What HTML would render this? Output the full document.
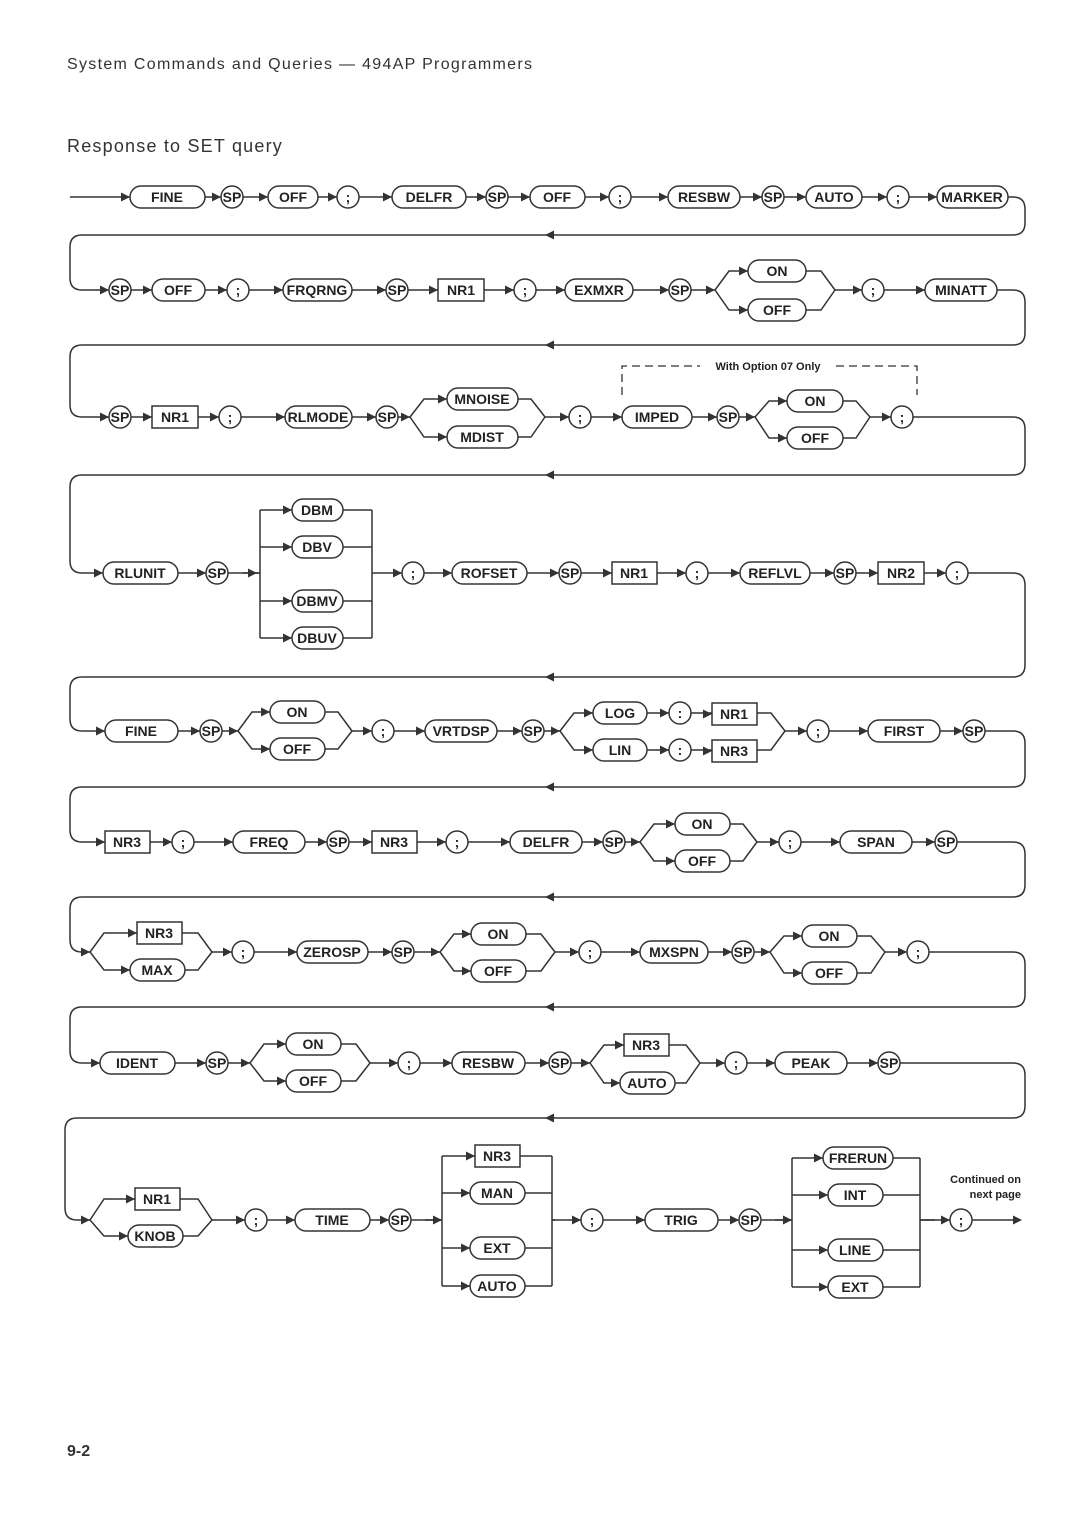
<!DOCTYPE html>
<html><head><meta charset="utf-8"><style>
html,body{margin:0;padding:0;background:#fff}
svg{display:block}
text{font-family:"Liberation Sans",sans-serif;fill:#222}
.l{fill:none;stroke:#333;stroke-width:1.5}
.o{fill:#fff;stroke:#333;stroke-width:1.5}
.t{font-size:14px;font-weight:bold;text-anchor:middle}
</style></head><body>
<svg width="1080" height="1528" viewBox="0 0 1080 1528" xmlns="http://www.w3.org/2000/svg">
<defs><path id="a" d="M-9,-4.5 L0,0 L-9,4.5Z" fill="#333"/></defs>
<text x="67" y="69" style="font-size:16px;letter-spacing:1.3px;fill:#333">System Commands and Queries — 494AP Programmers</text>
<text x="67" y="152" style="font-size:18px;letter-spacing:1.2px;fill:#333">Response to SET query</text>
<text x="67" y="1456" style="font-size:16px;font-weight:bold;fill:#333">9-2</text>

<!-- main lines -->
<path class="l" d="M70 197 H1013 Q1025 197 1025 209 V223 Q1025 235 1013 235 H82 Q70 235 70 247 V278 Q70 290 82 290 H715 M835 290 H1013 Q1025 290 1025 302 V333 Q1025 345 1013 345 H82 Q70 345 70 357 V405 Q70 417 82 417 H410 M545 417 H755 M870 417 H1013 Q1025 417 1025 429 V463 Q1025 475 1013 475 H82 Q70 475 70 487 V561 Q70 573 82 573 H260 M372 573 H1013 Q1025 573 1025 585 V665 Q1025 677 1013 677 H82 Q70 677 70 689 V719 Q70 731 82 731 H238 M352 731 H560 M785 731 H1013 Q1025 731 1025 743 V775 Q1025 787 1013 787 H82 Q70 787 70 799 V830 Q70 842 82 842 H640 M757 842 H1013 Q1025 842 1025 854 V885 Q1025 897 1013 897 H82 Q70 897 70 909 V940 Q70 952 82 952 H90 M212 952 H440 M555 952 H770 M885 952 H1013 Q1025 952 1025 964 V995 Q1025 1007 1013 1007 H82 Q70 1007 70 1019 V1051 Q70 1063 82 1063 H250 M370 1063 H590 M700 1063 H1013 Q1025 1063 1025 1075 V1106 Q1025 1118 1013 1118 H77 Q65 1118 65 1130 V1208 Q65 1220 77 1220 H90 M212 1220 H442 M552 1220 H792 M920 1220 H1018"/>
<g fill="#333"><use href="#a" x="545" y="235" transform="rotate(180 545 235)"/><use href="#a" x="545" y="345" transform="rotate(180 545 345)"/><use href="#a" x="545" y="475" transform="rotate(180 545 475)"/><use href="#a" x="545" y="677" transform="rotate(180 545 677)"/><use href="#a" x="545" y="787" transform="rotate(180 545 787)"/><use href="#a" x="545" y="897" transform="rotate(180 545 897)"/><use href="#a" x="545" y="1007" transform="rotate(180 545 1007)"/><use href="#a" x="545" y="1118" transform="rotate(180 545 1118)"/></g>

<!-- branches -->
<path class="l" d="
M715 290 L729 271 H821 L835 290 M715 290 L729 310 H821 L835 290
M410 417 L424 399 H531 L545 417 M410 417 L424 437 H531 L545 417
M755 417 L769 401 H856 L870 417 M755 417 L769 438 H856 L870 417
M243 573 H260 M260 510 V638 M372 510 V638 M260 510 H372 M260 547 H372 M260 601 H372 M260 638 H372
M238 731 L252 712 H338 L352 731 M238 731 L252 749 H338 L352 731
M560 731 L574 713 H771 L785 731 M560 731 L574 750 H771 L785 731
M640 842 L654 824 H743 L757 842 M640 842 L654 861 H743 L757 842
M90 952 L104 933 H198 L212 952 M90 952 L104 970 H198 L212 952
M440 952 L454 934 H541 L555 952 M440 952 L454 971 H541 L555 952
M770 952 L784 936 H871 L885 952 M770 952 L784 973 H871 L885 952
M250 1063 L264 1044 H356 L370 1063 M250 1063 L264 1081 H356 L370 1063
M590 1063 L604 1045 H686 L700 1063 M590 1063 L604 1083 H686 L700 1063
M90 1220 L104 1199 H198 L212 1220 M90 1220 L104 1236 H198 L212 1220
M425 1220 H442 M442 1156 V1286 M552 1156 V1286 M552 1220 H555 M442 1156 H552 M442 1193 H552 M442 1248 H552 M442 1286 H552
M775 1220 H792 M792 1158 V1287 M920 1158 V1287 M920 1220 H935 M792 1158 H920 M792 1195 H920 M792 1250 H920 M792 1287 H920
"/>
<path d="M622 395 V366 H700 M836 366 H917 V395" fill="none" stroke="#333" stroke-width="1.3" stroke-dasharray="8,5"/>
<text x="768" y="370" style="font-size:11px;font-weight:bold;text-anchor:middle">With Option 07 Only</text>
<text x="1021" y="1183" style="font-size:11px;font-weight:bold;text-anchor:end">Continued on</text>
<text x="1021" y="1198" style="font-size:11px;font-weight:bold;text-anchor:end">next page</text>
<use href="#a" x="1022" y="1220"/>

<g class="t">
<!-- Row 1 -->
<rect class="o" x="130" y="186" width="75" height="22" rx="11"/><text x="167" y="202">FINE</text>
<circle class="o" cx="232" cy="197" r="11"/><text x="232" y="202">SP</text>
<rect class="o" x="268" y="186" width="50" height="22" rx="11"/><text x="293" y="202">OFF</text>
<circle class="o" cx="348" cy="197" r="11"/><text x="348" y="202">;</text>
<rect class="o" x="392" y="186" width="74" height="22" rx="11"/><text x="429" y="202">DELFR</text>
<circle class="o" cx="497" cy="197" r="11"/><text x="497" y="202">SP</text>
<rect class="o" x="530" y="186" width="55" height="22" rx="11"/><text x="557" y="202">OFF</text>
<circle class="o" cx="620" cy="197" r="11"/><text x="620" y="202">;</text>
<rect class="o" x="668" y="186" width="72" height="22" rx="11"/><text x="704" y="202">RESBW</text>
<circle class="o" cx="773" cy="197" r="11"/><text x="773" y="202">SP</text>
<rect class="o" x="806" y="186" width="56" height="22" rx="11"/><text x="834" y="202">AUTO</text>
<circle class="o" cx="898" cy="197" r="11"/><text x="898" y="202">;</text>
<rect class="o" x="937" y="186" width="71" height="22" rx="11"/><text x="972" y="202">MARKER</text>
<!-- Row 2 -->
<circle class="o" cx="120" cy="290" r="11"/><text x="120" y="295">SP</text>
<rect class="o" x="152" y="279" width="53" height="22" rx="11"/><text x="178" y="295">OFF</text>
<circle class="o" cx="238" cy="290" r="11"/><text x="238" y="295">;</text>
<rect class="o" x="283" y="279" width="69" height="22" rx="11"/><text x="317" y="295">FRQRNG</text>
<circle class="o" cx="397" cy="290" r="11"/><text x="397" y="295">SP</text>
<rect class="o" x="438" y="279" width="46" height="22"/><text x="461" y="295">NR1</text>
<circle class="o" cx="525" cy="290" r="11"/><text x="525" y="295">;</text>
<rect class="o" x="565" y="279" width="68" height="22" rx="11"/><text x="599" y="295">EXMXR</text>
<circle class="o" cx="680" cy="290" r="11"/><text x="680" y="295">SP</text>
<rect class="o" x="748" y="260" width="58" height="22" rx="11"/><text x="777" y="276">ON</text>
<rect class="o" x="748" y="299" width="58" height="22" rx="11"/><text x="777" y="315">OFF</text>
<circle class="o" cx="873" cy="290" r="11"/><text x="873" y="295">;</text>
<rect class="o" x="925" y="279" width="72" height="22" rx="11"/><text x="961" y="295">MINATT</text>
<!-- Row 3 -->
<circle class="o" cx="120" cy="417" r="11"/><text x="120" y="422">SP</text>
<rect class="o" x="152" y="406" width="46" height="22"/><text x="175" y="422">NR1</text>
<circle class="o" cx="230" cy="417" r="11"/><text x="230" y="422">;</text>
<rect class="o" x="285" y="406" width="67" height="22" rx="11"/><text x="318" y="422">RLMODE</text>
<circle class="o" cx="387" cy="417" r="11"/><text x="387" y="422">SP</text>
<rect class="o" x="447" y="388" width="71" height="22" rx="11"/><text x="482" y="404">MNOISE</text>
<rect class="o" x="447" y="426" width="71" height="22" rx="11"/><text x="482" y="442">MDIST</text>
<circle class="o" cx="580" cy="417" r="11"/><text x="580" y="422">;</text>
<rect class="o" x="622" y="406" width="70" height="22" rx="11"/><text x="657" y="422">IMPED</text>
<circle class="o" cx="728" cy="417" r="11"/><text x="728" y="422">SP</text>
<rect class="o" x="787" y="390" width="56" height="22" rx="11"/><text x="815" y="406">ON</text>
<rect class="o" x="787" y="427" width="56" height="22" rx="11"/><text x="815" y="443">OFF</text>
<circle class="o" cx="902" cy="417" r="11"/><text x="902" y="422">;</text>
<!-- Row 4 -->
<rect class="o" x="103" y="562" width="75" height="22" rx="11"/><text x="140" y="578">RLUNIT</text>
<circle class="o" cx="217" cy="573" r="11"/><text x="217" y="578">SP</text>
<rect class="o" x="292" y="499" width="51" height="22" rx="11"/><text x="317" y="515">DBM</text>
<rect class="o" x="292" y="536" width="51" height="22" rx="11"/><text x="317" y="552">DBV</text>
<rect class="o" x="292" y="590" width="51" height="22" rx="11"/><text x="317" y="606">DBMV</text>
<rect class="o" x="292" y="627" width="51" height="22" rx="11"/><text x="317" y="643">DBUV</text>
<circle class="o" cx="413" cy="573" r="11"/><text x="413" y="578">;</text>
<rect class="o" x="452" y="562" width="75" height="22" rx="11"/><text x="489" y="578">ROFSET</text>
<circle class="o" cx="570" cy="573" r="11"/><text x="570" y="578">SP</text>
<rect class="o" x="612" y="562" width="45" height="22"/><text x="634" y="578">NR1</text>
<circle class="o" cx="697" cy="573" r="11"/><text x="697" y="578">;</text>
<rect class="o" x="740" y="562" width="70" height="22" rx="11"/><text x="775" y="578">REFLVL</text>
<circle class="o" cx="845" cy="573" r="11"/><text x="845" y="578">SP</text>
<rect class="o" x="878" y="562" width="46" height="22"/><text x="901" y="578">NR2</text>
<circle class="o" cx="957" cy="573" r="11"/><text x="957" y="578">;</text>
<!-- Row 5 -->
<rect class="o" x="105" y="720" width="73" height="22" rx="11"/><text x="141" y="736">FINE</text>
<circle class="o" cx="211" cy="731" r="11"/><text x="211" y="736">SP</text>
<rect class="o" x="270" y="701" width="55" height="22" rx="11"/><text x="297" y="717">ON</text>
<rect class="o" x="270" y="738" width="55" height="22" rx="11"/><text x="297" y="754">OFF</text>
<circle class="o" cx="383" cy="731" r="11"/><text x="383" y="736">;</text>
<rect class="o" x="425" y="720" width="72" height="22" rx="11"/><text x="461" y="736">VRTDSP</text>
<circle class="o" cx="533" cy="731" r="11"/><text x="533" y="736">SP</text>
<rect class="o" x="593" y="702" width="54" height="22" rx="11"/><text x="620" y="718">LOG</text>
<circle class="o" cx="680" cy="713" r="11"/><text x="680" y="718">:</text>
<rect class="o" x="712" y="703" width="45" height="22"/><text x="734" y="719">NR1</text>
<rect class="o" x="593" y="739" width="54" height="22" rx="11"/><text x="620" y="755">LIN</text>
<circle class="o" cx="680" cy="750" r="11"/><text x="680" y="755">:</text>
<rect class="o" x="712" y="740" width="45" height="22"/><text x="734" y="756">NR3</text>
<circle class="o" cx="818" cy="731" r="11"/><text x="818" y="736">;</text>
<rect class="o" x="868" y="720" width="72" height="22" rx="11"/><text x="904" y="736">FIRST</text>
<circle class="o" cx="974" cy="731" r="11"/><text x="974" y="736">SP</text>
<!-- Row 6 -->
<rect class="o" x="105" y="831" width="45" height="22"/><text x="127" y="847">NR3</text>
<circle class="o" cx="183" cy="842" r="11"/><text x="183" y="847">;</text>
<rect class="o" x="233" y="831" width="72" height="22" rx="11"/><text x="269" y="847">FREQ</text>
<circle class="o" cx="338" cy="842" r="11"/><text x="338" y="847">SP</text>
<rect class="o" x="372" y="831" width="45" height="22"/><text x="394" y="847">NR3</text>
<circle class="o" cx="457" cy="842" r="11"/><text x="457" y="847">;</text>
<rect class="o" x="510" y="831" width="72" height="22" rx="11"/><text x="546" y="847">DELFR</text>
<circle class="o" cx="614" cy="842" r="11"/><text x="614" y="847">SP</text>
<rect class="o" x="675" y="813" width="55" height="22" rx="11"/><text x="702" y="829">ON</text>
<rect class="o" x="675" y="850" width="55" height="22" rx="11"/><text x="702" y="866">OFF</text>
<circle class="o" cx="790" cy="842" r="11"/><text x="790" y="847">;</text>
<rect class="o" x="840" y="831" width="72" height="22" rx="11"/><text x="876" y="847">SPAN</text>
<circle class="o" cx="946" cy="842" r="11"/><text x="946" y="847">SP</text>
<!-- Row 7 -->
<rect class="o" x="137" y="922" width="45" height="22"/><text x="159" y="938">NR3</text>
<rect class="o" x="130" y="959" width="55" height="22" rx="11"/><text x="157" y="975">MAX</text>
<circle class="o" cx="243" cy="952" r="11"/><text x="243" y="957">;</text>
<rect class="o" x="297" y="941" width="71" height="22" rx="11"/><text x="332" y="957">ZEROSP</text>
<circle class="o" cx="403" cy="952" r="11"/><text x="403" y="957">SP</text>
<rect class="o" x="471" y="923" width="55" height="22" rx="11"/><text x="498" y="939">ON</text>
<rect class="o" x="471" y="960" width="55" height="22" rx="11"/><text x="498" y="976">OFF</text>
<circle class="o" cx="590" cy="952" r="11"/><text x="590" y="957">;</text>
<rect class="o" x="640" y="941" width="68" height="22" rx="11"/><text x="674" y="957">MXSPN</text>
<circle class="o" cx="743" cy="952" r="11"/><text x="743" y="957">SP</text>
<rect class="o" x="802" y="925" width="55" height="22" rx="11"/><text x="829" y="941">ON</text>
<rect class="o" x="802" y="962" width="55" height="22" rx="11"/><text x="829" y="978">OFF</text>
<circle class="o" cx="918" cy="952" r="11"/><text x="918" y="957">;</text>
<!-- Row 8 -->
<rect class="o" x="100" y="1052" width="75" height="22" rx="11"/><text x="137" y="1068">IDENT</text>
<circle class="o" cx="217" cy="1063" r="11"/><text x="217" y="1068">SP</text>
<rect class="o" x="286" y="1033" width="55" height="22" rx="11"/><text x="313" y="1049">ON</text>
<rect class="o" x="286" y="1070" width="55" height="22" rx="11"/><text x="313" y="1086">OFF</text>
<circle class="o" cx="409" cy="1063" r="11"/><text x="409" y="1068">;</text>
<rect class="o" x="452" y="1052" width="73" height="22" rx="11"/><text x="488" y="1068">RESBW</text>
<circle class="o" cx="560" cy="1063" r="11"/><text x="560" y="1068">SP</text>
<rect class="o" x="624" y="1034" width="45" height="22"/><text x="646" y="1050">NR3</text>
<rect class="o" x="620" y="1072" width="55" height="22" rx="11"/><text x="647" y="1088">AUTO</text>
<circle class="o" cx="736" cy="1063" r="11"/><text x="736" y="1068">;</text>
<rect class="o" x="775" y="1052" width="72" height="22" rx="11"/><text x="811" y="1068">PEAK</text>
<circle class="o" cx="889" cy="1063" r="11"/><text x="889" y="1068">SP</text>
<!-- Row 9 -->
<rect class="o" x="135" y="1188" width="45" height="22"/><text x="157" y="1204">NR1</text>
<rect class="o" x="128" y="1225" width="55" height="22" rx="11"/><text x="155" y="1241">KNOB</text>
<circle class="o" cx="256" cy="1220" r="11"/><text x="256" y="1225">;</text>
<rect class="o" x="295" y="1209" width="75" height="22" rx="11"/><text x="332" y="1225">TIME</text>
<circle class="o" cx="400" cy="1220" r="11"/><text x="400" y="1225">SP</text>
<rect class="o" x="475" y="1145" width="45" height="22"/><text x="497" y="1161">NR3</text>
<rect class="o" x="470" y="1182" width="55" height="22" rx="11"/><text x="497" y="1198">MAN</text>
<rect class="o" x="470" y="1237" width="55" height="22" rx="11"/><text x="497" y="1253">EXT</text>
<rect class="o" x="470" y="1275" width="55" height="22" rx="11"/><text x="497" y="1291">AUTO</text>
<circle class="o" cx="592" cy="1220" r="11"/><text x="592" y="1225">;</text>
<rect class="o" x="645" y="1209" width="73" height="22" rx="11"/><text x="681" y="1225">TRIG</text>
<circle class="o" cx="750" cy="1220" r="11"/><text x="750" y="1225">SP</text>
<rect class="o" x="823" y="1147" width="70" height="22" rx="11"/><text x="858" y="1163">FRERUN</text>
<rect class="o" x="828" y="1184" width="55" height="22" rx="11"/><text x="855" y="1200">INT</text>
<rect class="o" x="828" y="1239" width="55" height="22" rx="11"/><text x="855" y="1255">LINE</text>
<rect class="o" x="828" y="1276" width="55" height="22" rx="11"/><text x="855" y="1292">EXT</text>
<circle class="o" cx="961" cy="1220" r="11"/><text x="961" y="1225">;</text>
</g>

<!-- arrowheads into elements -->
<g>
<use href="#a" x="130" y="197"/><use href="#a" x="221" y="197"/><use href="#a" x="268" y="197"/><use href="#a" x="337" y="197"/><use href="#a" x="392" y="197"/><use href="#a" x="486" y="197"/><use href="#a" x="530" y="197"/><use href="#a" x="609" y="197"/><use href="#a" x="668" y="197"/><use href="#a" x="762" y="197"/><use href="#a" x="806" y="197"/><use href="#a" x="887" y="197"/><use href="#a" x="937" y="197"/>
<use href="#a" x="109" y="290"/><use href="#a" x="152" y="290"/><use href="#a" x="227" y="290"/><use href="#a" x="283" y="290"/><use href="#a" x="386" y="290"/><use href="#a" x="438" y="290"/><use href="#a" x="514" y="290"/><use href="#a" x="565" y="290"/><use href="#a" x="669" y="290"/><use href="#a" x="715" y="290"/><use href="#a" x="748" y="271"/><use href="#a" x="748" y="310"/><use href="#a" x="862" y="290"/><use href="#a" x="925" y="290"/>
<use href="#a" x="109" y="417"/><use href="#a" x="152" y="417"/><use href="#a" x="219" y="417"/><use href="#a" x="285" y="417"/><use href="#a" x="376" y="417"/><use href="#a" x="410" y="417"/><use href="#a" x="447" y="399"/><use href="#a" x="447" y="437"/><use href="#a" x="569" y="417"/><use href="#a" x="622" y="417"/><use href="#a" x="717" y="417"/><use href="#a" x="755" y="417"/><use href="#a" x="787" y="401"/><use href="#a" x="787" y="438"/><use href="#a" x="891" y="417"/>
<use href="#a" x="103" y="573"/><use href="#a" x="206" y="573"/><use href="#a" x="257" y="573"/><use href="#a" x="292" y="510"/><use href="#a" x="292" y="547"/><use href="#a" x="292" y="601"/><use href="#a" x="292" y="638"/><use href="#a" x="402" y="573"/><use href="#a" x="452" y="573"/><use href="#a" x="559" y="573"/><use href="#a" x="612" y="573"/><use href="#a" x="686" y="573"/><use href="#a" x="740" y="573"/><use href="#a" x="834" y="573"/><use href="#a" x="878" y="573"/><use href="#a" x="946" y="573"/>
<use href="#a" x="105" y="731"/><use href="#a" x="200" y="731"/><use href="#a" x="238" y="731"/><use href="#a" x="270" y="712"/><use href="#a" x="270" y="749"/><use href="#a" x="372" y="731"/><use href="#a" x="425" y="731"/><use href="#a" x="522" y="731"/><use href="#a" x="560" y="731"/><use href="#a" x="593" y="713"/><use href="#a" x="593" y="750"/><use href="#a" x="669" y="713"/><use href="#a" x="669" y="750"/><use href="#a" x="712" y="714"/><use href="#a" x="712" y="751"/><use href="#a" x="807" y="731"/><use href="#a" x="868" y="731"/><use href="#a" x="963" y="731"/>
<use href="#a" x="105" y="842"/><use href="#a" x="172" y="842"/><use href="#a" x="233" y="842"/><use href="#a" x="327" y="842"/><use href="#a" x="372" y="842"/><use href="#a" x="446" y="842"/><use href="#a" x="510" y="842"/><use href="#a" x="603" y="842"/><use href="#a" x="640" y="842"/><use href="#a" x="675" y="824"/><use href="#a" x="675" y="861"/><use href="#a" x="779" y="842"/><use href="#a" x="840" y="842"/><use href="#a" x="935" y="842"/>
<use href="#a" x="90" y="952"/><use href="#a" x="137" y="933"/><use href="#a" x="130" y="970"/><use href="#a" x="232" y="952"/><use href="#a" x="297" y="952"/><use href="#a" x="392" y="952"/><use href="#a" x="440" y="952"/><use href="#a" x="471" y="934"/><use href="#a" x="471" y="971"/><use href="#a" x="579" y="952"/><use href="#a" x="640" y="952"/><use href="#a" x="732" y="952"/><use href="#a" x="770" y="952"/><use href="#a" x="802" y="936"/><use href="#a" x="802" y="973"/><use href="#a" x="907" y="952"/>
<use href="#a" x="100" y="1063"/><use href="#a" x="206" y="1063"/><use href="#a" x="250" y="1063"/><use href="#a" x="286" y="1044"/><use href="#a" x="286" y="1081"/><use href="#a" x="398" y="1063"/><use href="#a" x="452" y="1063"/><use href="#a" x="549" y="1063"/><use href="#a" x="590" y="1063"/><use href="#a" x="624" y="1045"/><use href="#a" x="620" y="1083"/><use href="#a" x="725" y="1063"/><use href="#a" x="775" y="1063"/><use href="#a" x="878" y="1063"/>
<use href="#a" x="90" y="1220"/><use href="#a" x="135" y="1199"/><use href="#a" x="128" y="1236"/><use href="#a" x="245" y="1220"/><use href="#a" x="295" y="1220"/><use href="#a" x="389" y="1220"/><use href="#a" x="442" y="1220"/><use href="#a" x="475" y="1156"/><use href="#a" x="470" y="1193"/><use href="#a" x="470" y="1248"/><use href="#a" x="470" y="1286"/><use href="#a" x="581" y="1220"/><use href="#a" x="645" y="1220"/><use href="#a" x="739" y="1220"/><use href="#a" x="792" y="1220"/><use href="#a" x="823" y="1158"/><use href="#a" x="828" y="1195"/><use href="#a" x="828" y="1250"/><use href="#a" x="828" y="1287"/><use href="#a" x="950" y="1220"/>
</g>
</svg>
</body></html>
